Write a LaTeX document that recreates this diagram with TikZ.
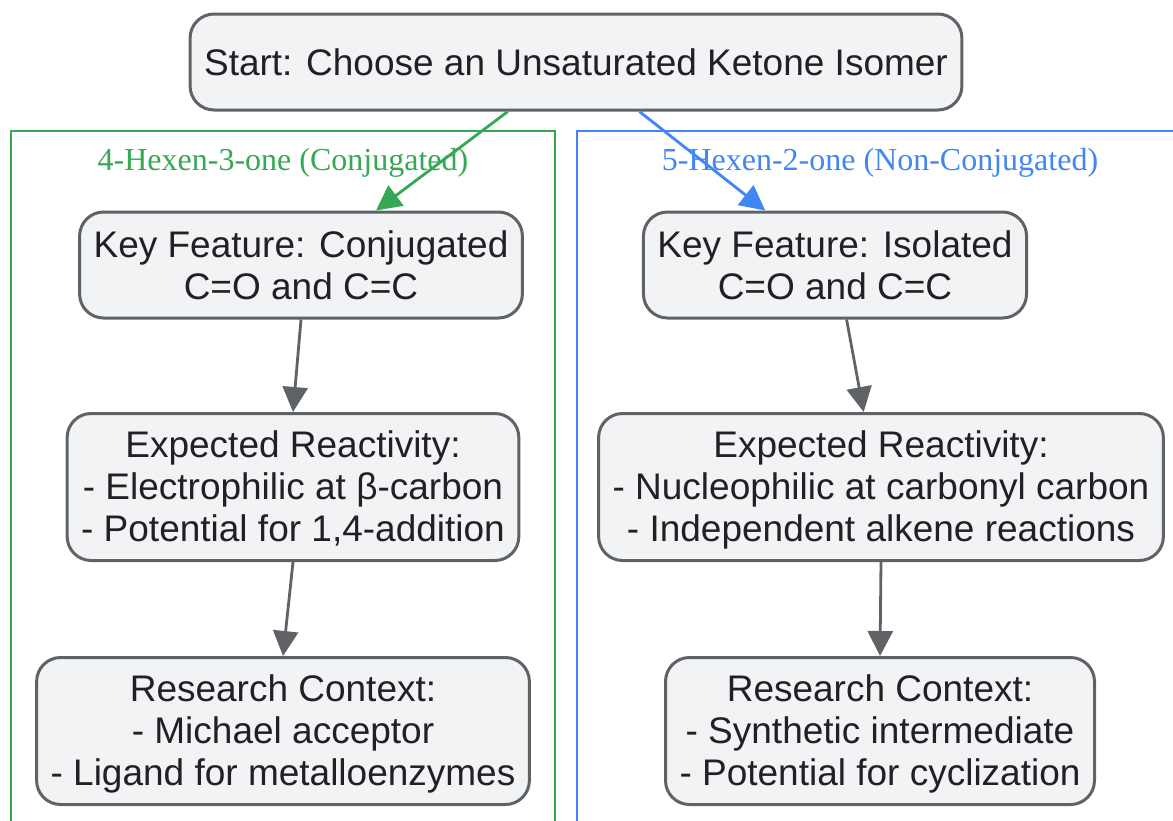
\documentclass[tikz,border=0pt]{standalone}
\usepackage{fontspec}
\setmainfont{Liberation Sans}
\newfontfamily\titlefont{Liberation Serif}
\usetikzlibrary{arrows.meta}
\definecolor{nodefill}{HTML}{F1F3F4}
\definecolor{nodeline}{HTML}{5F6368}
\definecolor{nodetext}{HTML}{202124}
\definecolor{conjgreen}{HTML}{34A853}
\definecolor{isoblue}{HTML}{4285F4}
\tikzset{
  box/.style={draw=nodeline, fill=nodefill, line width=1.5pt, rounded corners=12pt,
    align=center, text=nodetext, inner xsep=7pt, inner ysep=4pt,
    font=\fontsize{18.5}{21}\selectfont},
  twoline/.style={box, minimum height=53pt},
  threeline/.style={box, minimum height=73.5pt, text depth=1pt},
  cluster/.style={line width=1pt},
  clustertitle/.style={font=\titlefont\fontsize{16}{18}\selectfont},
  link/.style={line width=1.4pt, -{Triangle[length=12.5pt,width=12.5pt]}}
}
\begin{document}
\begin{tikzpicture}[x={(0.5pt,0)},y={(0,-0.5pt)}]
\useasboundingbox (0,0) rectangle (1173,820);
% clusters
\draw[cluster,conjgreen] (11,824) |- (555,131) -- (555,824);
\draw[cluster,isoblue] (577,824) |- (1180,131);
\node[clustertitle,text=conjgreen] (conjtitle) at (283,163) {4-Hexen-3-one (Conjugated)};
\node[clustertitle,text=isoblue] (isotitle) at (880,163) {5-Hexen-2-one (Non-Conjugated)};

% nodes
\node[box,minimum height=48pt] (start) at (576,62) {Start: Choose an Unsaturated Ketone Isomer};
\node[twoline] (keyconj) at (301,265) {Key Feature: Conjugated\\C=O and C=C};
\node[threeline] (reactconj) at (293,487) {Expected Reactivity:\\- Electrophilic at β-carbon\\- Potential for 1,4-addition};
\node[threeline] (contextconj) at (283,731) {Research Context:\\- Michael acceptor\\- Ligand for metalloenzymes};
\node[twoline] (keyiso) at (835,265) {Key Feature: Isolated\\C=O and C=C};
\node[threeline] (reactiso) at (881,487) {Expected Reactivity:\\- Nucleophilic at carbonyl carbon\\- Independent alkene reactions};
\node[threeline] (contextiso) at (880,731) {Research Context:\\- Synthetic intermediate\\- Potential for cyclization};

% edges
\draw[link,conjgreen] (start.216) -- (keyconj.36);
\draw[link,isoblue] (start.322) -- (keyiso.142);
\draw[link,nodeline] (keyconj.south) -- (reactconj.north);
\draw[link,nodeline] (reactconj.south) -- (contextconj.north);
\draw[link,nodeline] (keyiso.282) -- (reactiso.103);
\draw[link,nodeline] (reactiso.south) -- (contextiso.north);
\end{tikzpicture}
\end{document}
